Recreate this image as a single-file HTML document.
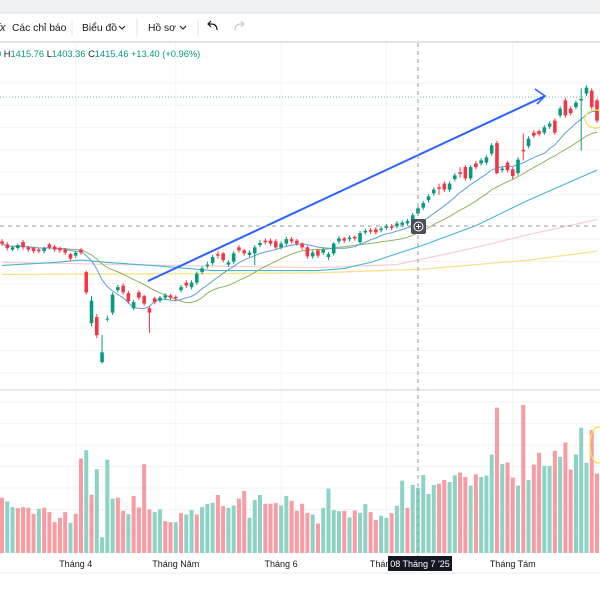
<!DOCTYPE html>
<html><head><meta charset="utf-8"><style>
html,body{margin:0;padding:0;background:#fff;width:600px;height:600px;overflow:hidden}
svg{display:block;font-family:"Liberation Sans","Noto Sans CJK SC",sans-serif}
</style></head><body>
<svg id="chart" width="600" height="600" viewBox="0 0 600 600" xmlns="http://www.w3.org/2000/svg">
  <rect x="0" y="0" width="600" height="600" fill="#fff"/>
  <rect x="0" y="0" width="600" height="13" fill="#eef0f3"/>
  <line x1="0" y1="13" x2="600" y2="13" stroke="#dfe2e8"/>
  <g>
    <text x="-3" y="31" font-size="11" fill="#131722" font-style="italic">fx</text>
    <text x="12" y="31" font-size="10.3" fill="#131722">Các chỉ báo</text>
    <line x1="72" y1="19" x2="72" y2="36" stroke="#e0e3eb"/>
    <text x="82" y="31" font-size="10.3" fill="#131722">Biểu đồ</text>
    <path d="M119 26 l3 3 l3 -3" fill="none" stroke="#131722" stroke-width="1"/>
    <line x1="137" y1="19" x2="137" y2="36" stroke="#e0e3eb"/>
    <text x="148" y="31" font-size="10.3" fill="#131722">Hồ sơ</text>
    <path d="M180 26 l3 3 l3 -3" fill="none" stroke="#131722" stroke-width="1"/>
    <line x1="198" y1="19" x2="198" y2="36" stroke="#e0e3eb"/>
    <path d="M217 30 q0 -6 -6 -6 h-3 m3 -3 l-3 3 l3 3" fill="none" stroke="#131722" stroke-width="1.2"/>
    <path d="M235 30 q0 -6 6 -6 h3 m-3 -3 l3 3 l-3 3" fill="none" stroke="#c8cbd2" stroke-width="1.2"/>
  </g>
  <rect x="0" y="41" width="600" height="2" fill="#e0e3eb"/>
  <g id="grid"></g>
  <line x1="0" y1="390" x2="600" y2="390" stroke="#e6e8ee" stroke-width="2"/>
  <g id="vol"></g>
  <g id="mas"></g>
  <g id="candles"></g>
  <line x1="0" y1="97" x2="600" y2="97" stroke="#089981" stroke-opacity="0.6" stroke-dasharray="1 2"/>
  <g>
    <line x1="148" y1="281" x2="545" y2="96" stroke="#2962ff" stroke-width="2"/>
    <path d="M535 89 L545 96 L537 104" fill="none" stroke="#2962ff" stroke-width="1.6"/>
  </g>
  <ellipse cx="596" cy="119" rx="11" ry="9" fill="none" stroke="#f3e25a" stroke-width="1.4"/>
  <ellipse cx="598" cy="445" rx="8" ry="18" fill="none" stroke="#f3e25a" stroke-width="1.4"/>
  <line x1="418" y1="43" x2="418" y2="556" stroke="#9598a1" stroke-dasharray="4 4"/>
  <line x1="0" y1="226" x2="600" y2="226" stroke="#9598a1" stroke-dasharray="4 4"/>
  <g>
    <rect x="411" y="219" width="15" height="15" rx="2" fill="#4a4e59"/>
    <circle cx="418.5" cy="226.5" r="4.5" fill="none" stroke="#fff" stroke-width="1"/>
    <path d="M416 226.5 h5 M418.5 224 v5" stroke="#fff" stroke-width="1"/>
  </g>
  <text x="-4" y="57" font-size="9.3" fill="#089981"><tspan>0 </tspan><tspan fill="#131722">H</tspan><tspan>1415.76 </tspan><tspan fill="#131722">L</tspan><tspan>1403.36 </tspan><tspan fill="#131722">C</tspan><tspan>1415.46 +13.40 (+0.96%)</tspan></text>
  <line x1="0" y1="573" x2="600" y2="573" stroke="#eceef2"/>
  <g id="xaxis"></g>
  <g>
    <rect x="388" y="556" width="64" height="15" fill="#131722"/>
    <text x="420" y="567" font-size="9" fill="#fff" text-anchor="middle">08 Tháng 7 '25</text>
  </g>
</svg>
<script>
const opens=[1223,1219,1212,1214,1222,1215,1214,1212,1210,1219,1216,1214,1212,1206,1204,1212,1182,1114,1122,1062,1119,1128,1158,1164,1154,1134,1155,1150,1134,1147,1144,1148,1151,1149,1158,1168,1162,1168,1182,1190,1194,1206,1207,1192,1196,1215,1211,1205,1207,1218,1224,1224,1223,1215,1220,1226,1224,1220,1215,1203,1211,1208,1202,1207,1223,1227,1226,1229,1222,1235,1238,1239,1238,1241,1243,1243,1245,1247,1251,1260,1268,1278,1287,1295,1300,1292,1306,1315,1322,1307,1327,1327,1328,1340,1354,1318,1328,1319,1314,1345,1350,1368,1370,1368,1376,1384,1391,1411,1400,1402,1411,1420,1424,1411];
const closes=[1220,1214,1215,1218,1215,1212,1210,1210,1214,1215,1212,1211,1208,1200,1208,1208,1155,1144,1098,1075,1120,1152,1162,1155,1143,1142,1148,1140,1128,1142,1148,1151,1148,1147,1162,1164,1168,1180,1187,1192,1202,1204,1198,1195,1207,1211,1207,1208,1215,1221,1222,1220,1215,1220,1226,1223,1220,1215,1203,1208,1204,1212,1206,1220,1227,1224,1228,1227,1234,1237,1236,1235,1240,1243,1241,1247,1248,1250,1258,1267,1274,1283,1292,1293,1292,1300,1311,1313,1307,1322,1322,1331,1335,1351,1314,1320,1318,1310,1332,1343,1360,1364,1366,1375,1380,1368,1400,1391,1394,1408,1413,1428,1402,1384];
const highs=[1226,1222,1217,1220,1225,1217,1216,1214,1216,1221,1218,1216,1214,1208,1210,1214,1184,1150,1126,1098,1124,1155,1165,1167,1157,1145,1158,1152,1136,1149,1150,1154,1153,1151,1165,1171,1171,1183,1190,1196,1205,1210,1209,1198,1210,1218,1213,1211,1218,1225,1227,1227,1226,1223,1229,1229,1226,1222,1217,1211,1213,1215,1209,1222,1230,1229,1231,1231,1237,1240,1241,1242,1243,1246,1246,1250,1251,1253,1261,1270,1277,1286,1295,1300,1303,1303,1314,1322,1325,1325,1330,1334,1338,1354,1357,1323,1330,1322,1335,1367,1363,1371,1372,1378,1383,1387,1403,1414,1403,1411,1427,1431,1427,1414];
const lows=[1217,1211,1210,1212,1212,1209,1207,1207,1207,1212,1209,1208,1205,1197,1201,1205,1152,1110,1094,1060,1116,1125,1155,1152,1140,1131,1145,1137,1101,1139,1141,1145,1145,1144,1155,1161,1159,1165,1179,1187,1191,1200,1195,1189,1193,1208,1204,1202,1191,1215,1219,1217,1212,1212,1217,1220,1217,1212,1200,1200,1201,1205,1198,1204,1220,1221,1223,1224,1219,1232,1233,1232,1235,1238,1238,1240,1242,1244,1248,1257,1265,1275,1284,1285,1289,1289,1303,1308,1304,1304,1319,1324,1325,1337,1312,1315,1315,1306,1311,1331,1347,1361,1363,1365,1373,1365,1388,1388,1391,1399,1344,1417,1399,1381];
const volumes=[165,154,137,134,137,135,117,132,135,122,92,105,122,90,117,282,307,174,250,47,279,162,165,126,116,170,136,265,130,122,130,95,92,92,119,115,128,115,137,146,150,173,140,135,142,162,185,105,158,173,147,147,149,142,170,156,126,147,119,115,88,134,192,128,125,126,106,127,120,146,122,99,111,105,119,141,216,135,203,195,233,176,203,207,218,212,232,240,227,201,235,227,231,294,434,266,270,225,201,442,218,264,299,260,260,305,287,330,249,294,374,269,367,237];
const volUp=[0,1,1,0,0,0,0,1,0,0,0,0,0,1,0,0,1,0,1,1,1,1,0,0,1,0,0,0,0,1,1,0,0,1,0,1,1,0,1,1,1,0,0,1,1,0,0,1,1,1,0,0,0,1,1,0,0,0,0,1,0,1,1,1,1,0,1,0,1,1,0,0,1,1,0,1,1,0,1,1,1,1,1,0,0,1,1,0,0,1,0,1,1,1,0,1,0,0,1,0,1,0,0,1,1,0,1,0,0,1,1,1,0,0];
const ma50Idx=[0,10,15,20,30,40,50,60,65,70,80,90,100,113];
const ma50Val=[1191,1195,1198,1195,1190,1184,1184,1184,1187,1195,1218,1244,1278,1318];
const ma100Idx=[0,40,60,75,90,100,113];
const ma100Val=[1195,1190,1188,1192,1215,1232,1252];
const ma200Idx=[0,40,60,80,100,113];
const ma200Val=[1179,1180,1181,1186,1198,1210];
const monthLabels=["Tháng 4","Tháng Năm","Tháng 6","Tháng 7","Tháng Tám"];
const monthIdx=[14,33,53,73,97];

const NS="http://www.w3.org/2000/svg";
const N=closes.length;
const step=(597-2)/(N-1);
function xS(i){return 2+i*step;}
function yS(p){return 97+(1415.5-p)*0.75;}
function vS(v){return 553-v*0.335;}
function mk(tag,attrs,parent){const e=document.createElementNS(NS,tag);for(const k in attrs)e.setAttribute(k,attrs[k]);parent.appendChild(e);return e;}

const grid=document.getElementById('grid');
for(let y=83;y<385;y+=22.3){const l=mk('line',{x1:0,x2:600,y1:y,y2:y,stroke:'#f2f3f6'},grid);

}
for(let y=402;y<552;y+=21.5){const l=mk('line',{x1:0,x2:600,y1:y,y2:y,stroke:'#f2f3f6'},grid);

}
monthIdx.forEach(i=>{const l=mk('line',{x1:xS(i),x2:xS(i),y1:43,y2:556,stroke:'#f2f3f6'},grid);

});

const vol=document.getElementById('vol');
volumes.forEach((v,i)=>{const r=mk('rect',{x:xS(i)-2,y:vS(v),width:4,height:553-vS(v),fill:volUp[i]?'#8cd2c5':'#f89ba2'},vol);

});

const mas=document.getElementById('mas');
function line(pts,color,name,w){const p=mk('polyline',{points:pts.map(q=>q[0].toFixed(1)+','+q[1].toFixed(1)).join(' '),fill:'none',stroke:color,'stroke-width':w||1},mas);

}
function smaPts(n){const pts=[];for(let i=0;i<N;i++){const s=Math.max(0,i-n+1);let t=0;for(let j=s;j<=i;j++)t+=closes[j];pts.push([xS(i),yS(t/(i-s+1))]);}return pts;}
line(ma200Idx.map((k,j)=>[xS(k),yS(ma200Val[j])]),'#f7e28c','ma200-line',1.3);
line(ma100Idx.map((k,j)=>[xS(k),yS(ma100Val[j])]),'#f5cdd2','ma100-line',1.2);
line(ma50Idx.map((k,j)=>[xS(k),yS(ma50Val[j])]),'#45b6d0','ma50-line',1.1);
line(smaPts(20),'#8db55a','ma20-line',1);
line(smaPts(10),'#5a9fd8','ma10-line',1);

const cg=document.getElementById('candles');
for(let i=0;i<N;i++){
  const up=closes[i]>=opens[i];const c=up?'#089981':'#f23645';const x=xS(i);
  const g=mk('g',{},cg);
  
  
  mk('line',{x1:x,x2:x,y1:yS(highs[i]),y2:yS(lows[i]),stroke:c,'stroke-width':1},g);
  const t=yS(Math.max(opens[i],closes[i])),b=yS(Math.min(opens[i],closes[i]));
  mk('rect',{x:x-1.8,y:t,width:3.6,height:Math.max(1,b-t),fill:c},g);
}

const xa=document.getElementById('xaxis');
monthLabels.forEach((m,j)=>{const t=mk('text',{x:xS(monthIdx[j]),y:567,'font-size':9,fill:'#131722','text-anchor':'middle'},xa);t.textContent=m;

});
</script>
</body></html>
